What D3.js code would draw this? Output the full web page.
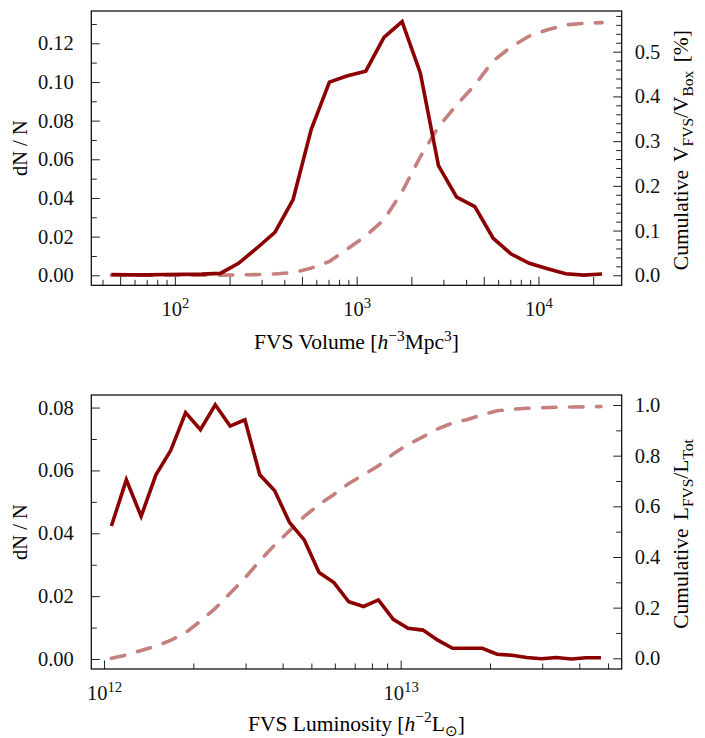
<!DOCTYPE html>
<html>
<head>
<meta charset="utf-8">
<script src="https://cdn.jsdelivr.net/npm/d3@7"></script>
<style>
  body { margin: 0; background: #fff; }
  text { font-family: "Liberation Serif", "Times New Roman", serif; }
</style>
</head>
<body>
<div id="chart"></div>
<script>
// FVS volume bin centres [h^-3 Mpc^3]
const volBins = [44.7, 56.2, 70.8, 89.1, 112, 141, 178, 224, 282, 355, 447, 562, 708, 891,
                 1122, 1413, 1778, 2239, 2818, 3548, 4467, 5623, 7079, 8913, 11220, 14125, 17783, 22387];
// dN/N per volume bin
const volFrac = [0.0004, 0.0002, 0.0002, 0.0004, 0.0005, 0.0006, 0.0010, 0.0062, 0.0140, 0.0222,
                 0.0392, 0.0754, 0.0999, 0.1032, 0.1056, 0.1230, 0.1312, 0.1047, 0.0567, 0.0404,
                 0.0355, 0.0193, 0.0110, 0.0062, 0.0034, 0.0008, 0.0001, 0.0007];
// cumulative V_FVS / V_Box [%]
const volCum = [0.0000, 0.0000, 0.0000, 0.0001, 0.0001, 0.0002, 0.0004, 0.0008, 0.0015, 0.0030,
                0.0060, 0.0160, 0.0310, 0.0590, 0.0880, 0.1240, 0.1870, 0.2650, 0.3320, 0.3810,
                0.4255, 0.4790, 0.5110, 0.5350, 0.5490, 0.5600, 0.5635, 0.5650];

// FVS luminosity bin centres [h^-2 L_sun]
const lumBins = [1.059e12, 1.189e12, 1.334e12, 1.496e12, 1.679e12, 1.884e12, 2.113e12, 2.371e12,
                 2.661e12, 2.985e12, 3.350e12, 3.758e12, 4.217e12, 4.732e12, 5.309e12, 5.957e12,
                 6.683e12, 7.499e12, 8.414e12, 9.441e12, 1.059e13, 1.189e13, 1.334e13, 1.496e13,
                 1.679e13, 1.884e13, 2.113e13, 2.371e13, 2.661e13, 2.985e13, 3.350e13, 3.758e13,
                 4.217e13, 4.732e13];
const lumFrac = [0.0423, 0.0570, 0.0454, 0.0586, 0.0664, 0.0784, 0.0730, 0.0809, 0.0741, 0.0761,
                 0.0586, 0.0536, 0.0435, 0.0379, 0.0275, 0.0243, 0.0182, 0.0167, 0.0188, 0.0126,
                 0.0098, 0.0092, 0.0060, 0.0034, 0.0034, 0.0034, 0.0015, 0.0012, 0.0005, 0.0001,
                 0.0005, 0.0000, 0.0004, 0.0004];
// cumulative L_FVS / L_Tot
const lumCum = [0.000, 0.013, 0.031, 0.048, 0.071, 0.101, 0.147, 0.197, 0.257, 0.317,
                0.385, 0.447, 0.503, 0.560, 0.607, 0.647, 0.690, 0.725, 0.760, 0.807,
                0.845, 0.874, 0.906, 0.929, 0.943, 0.962, 0.977, 0.983, 0.987, 0.989,
                0.991, 0.992, 0.993, 0.994];

// labelled ticks
const volLeftTicks = [0.00, 0.02, 0.04, 0.06, 0.08, 0.10, 0.12];
const volRightTicks = [0.0, 0.1, 0.2, 0.3, 0.4, 0.5];
const lumLeftTicks = [0.00, 0.02, 0.04, 0.06, 0.08];
const lumRightTicks = [0.0, 0.2, 0.4, 0.6, 0.8, 1.0];

const W = 705, H = 738;
const L = 91.3, R = 621.7;
const red = "#8b0000";
const fs = 20.5;      // tick labels
const tfs = 21.5;     // axis titles
const majorLen = 8.5, minorLen = 5.5;

const svg = d3.select("#chart").append("svg")
    .attr("width", W).attr("height", H)
    .style("background", "#fff");

const isPow10 = v => Math.abs(Math.log10(v) - Math.round(Math.log10(v))) < 1e-6;
const mant = v => Math.round(v / Math.pow(10, Math.floor(Math.log10(v) + 1e-9)));
const near = (arr, v) => arr.some(t => Math.abs(t - v) < 1e-9);

// text with sub/superscripts: parts = [[str, kind]], kind: "", "sup", "sub", "it"
function richText(sel, parts, size) {
    let shift = 0;
    parts.forEach(([s, kind]) => {
        const t = sel.append("tspan").text(s);
        const want = kind === "sup" ? -0.4 * size : kind === "sub" ? 0.22 * size : 0;
        if (want !== shift) { t.attr("dy", want - shift); shift = want; }
        if (kind === "sup" || kind === "sub") t.style("font-size", (size * 0.72) + "px");
        if (kind === "it") t.style("font-style", "italic");
    });
}

function panel(o) {
    const g = svg.append("g");
    const x = d3.scaleLog().domain(o.xDomain).range([L, R]);
    const yL = d3.scaleLinear().domain(o.yLDomain).range([o.bottom, o.top]);
    const yR = d3.scaleLinear().domain(o.yRDomain).range([o.bottom, o.top]);

    // bottom (log) axis, ticks pointing inward
    const xt = x.ticks().filter(v => v >= o.xDomain[0] && v <= o.xDomain[1]);
    const xAxis = g.append("g")
        .attr("transform", `translate(0,${o.bottom})`)
        .call(d3.axisBottom(x).tickValues(xt).tickSizeInner(-majorLen).tickSizeOuter(0)
            .tickPadding(16.5).tickFormat(v => isPow10(v) ? "10" : ""));
    xAxis.selectAll(".tick line")
        .attr("y2", v => o.longX(v) ? -majorLen : -minorLen);
    xAxis.selectAll(".tick text").each(function (v) {
        if (!isPow10(v)) return;
        const t = d3.select(this).text(null);
        richText(t, [["10", ""], [String(Math.round(Math.log10(v))), "sup"]], fs);
    });

    // left axis
    const lt = d3.range(0, o.yLDomain[1], 0.01).map(v => +v.toFixed(2));
    const yAxisL = g.append("g")
        .attr("transform", `translate(${L},0)`)
        .call(d3.axisLeft(yL).tickValues(lt).tickSizeInner(-majorLen).tickSizeOuter(0)
            .tickPadding(17.5).tickFormat(v => near(o.leftTicks, v) ? d3.format(".2f")(v) : ""));
    yAxisL.selectAll(".tick line")
        .attr("x2", v => near(o.leftTicks, v) ? majorLen : minorLen);

    // right axis
    const rt = d3.range(0, o.yRDomain[1], o.rightMinor).map(v => +v.toFixed(2));
    const yAxisR = g.append("g")
        .attr("transform", `translate(${R},0)`)
        .call(d3.axisRight(yR).tickValues(rt).tickSizeInner(-majorLen).tickSizeOuter(0)
            .tickPadding(13).tickFormat(v => near(o.rightTicks, v) ? d3.format(".1f")(v) : ""));
    yAxisR.selectAll(".tick line")
        .attr("x2", v => near(o.rightTicks, v) ? -majorLen : -minorLen);

    g.selectAll(".domain").remove();
    g.selectAll(".tick line").attr("stroke", "#222").attr("stroke-width", 1);
    g.selectAll(".tick text")
        .attr("fill", "#111")
        .style("font-size", fs + "px")
        .style("font-family", "'Liberation Serif', serif");

    // lines
    const solid = d3.line().x((d, i) => x(o.bins[i])).y(d => yL(d));
    const dashed = d3.line().x((d, i) => x(o.bins[i])).y(d => yR(d));
    g.append("path")
        .attr("d", solid(o.frac))
        .attr("fill", "none")
        .attr("stroke", red)
        .attr("stroke-width", 3.6)
        .attr("stroke-linejoin", "miter");
    g.append("path")
        .attr("d", dashed(o.cum))
        .attr("fill", "none")
        .attr("stroke", red)
        .attr("stroke-opacity", 0.5)
        .attr("stroke-width", 3.6)
        .attr("stroke-linecap", "round")
        .attr("stroke-dasharray", "13.5 13.5");

    // frame
    g.append("rect")
        .attr("x", L).attr("y", o.top)
        .attr("width", R - L).attr("height", o.bottom - o.top)
        .attr("fill", "none").attr("stroke", "#000").attr("stroke-width", 1.2);

    const cy = (o.top + o.bottom) / 2;
    // x title
    richText(g.append("text")
        .attr("x", (L + R) / 2).attr("y", o.bottom + o.xTitleGap)
        .attr("text-anchor", "middle").style("font-size", tfs + "px"), o.xTitle, tfs);
    // left title
    g.append("text")
        .attr("transform", `translate(26.5,${cy}) rotate(-90)`)
        .attr("text-anchor", "middle").style("font-size", fs + "px")
        .text("dN / N");
    // right title
    richText(g.append("text")
        .attr("transform", `translate(688,${cy + 2}) rotate(-90)`)
        .attr("text-anchor", "middle").style("font-size", tfs + "px")
        .style("word-spacing", "3px"), o.rTitle, tfs);
}

panel({
    top: 11, bottom: 285.3, xTitleGap: 64,
    xDomain: [34.7, 28700],
    yLDomain: [-0.00517, 0.1367],
    yRDomain: [-0.0224, 0.591],
    rightMinor: 0.02,
    leftTicks: volLeftTicks, rightTicks: volRightTicks,
    longX: v => [1, 2, 5].includes(mant(v)),
    bins: volBins, frac: volFrac, cum: volCum,
    xTitle: [["FVS Volume [", ""], ["h", "it"], ["\u22123", "sup"], ["Mpc", ""], ["3", "sup"], ["]", ""]],
    rTitle: [["Cumulative V", ""], ["FVS", "sub"], ["/V", ""], ["Box", "sub"], [" [%]", ""]]
});

panel({
    top: 395, bottom: 669, xTitleGap: 62,
    xDomain: [9.06e11, 5.56e13],
    yLDomain: [-0.00318, 0.0840],
    yRDomain: [-0.0422, 1.0395],
    rightMinor: 0.1,
    leftTicks: lumLeftTicks, rightTicks: lumRightTicks,
    longX: v => isPow10(v),
    bins: lumBins, frac: lumFrac, cum: lumCum,
    xTitle: [["FVS Luminosity [", ""], ["h", "it"], ["\u22122", "sup"], ["L", ""], ["\u2299", "sub"], ["]", ""]],
    rTitle: [["Cumulative L", ""], ["FVS", "sub"], ["/L", ""], ["Tot", "sub"]]
});
</script>
</body>
</html>
